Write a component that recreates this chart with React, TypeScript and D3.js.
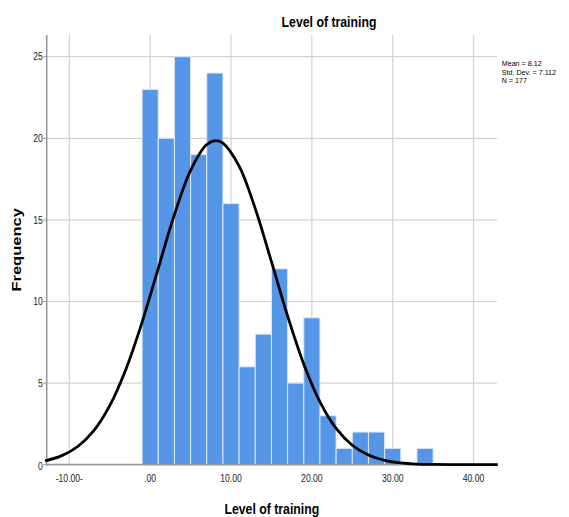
import React from "react";
import * as d3 from "d3";

// histogram bins (lower edge, width 2) and their counts
const binStarts = [-1, 1, 3, 5, 7, 9, 11, 13, 15, 17, 19, 21, 23, 25, 27, 29, 31, 33];
const binCounts = [23, 20, 25, 19, 24, 16, 6, 8, 12, 5, 9, 3, 1, 2, 2, 1, 0, 1];
const binWidth = 2;

// fitted normal curve
const curveX = [-13, -11, -9, -7, -5, -3, -1, 1, 3, 5, 7, 8.12, 9, 11, 13, 15, 17, 19, 21, 23, 25, 27, 29, 31, 33, 35, 37, 39, 41, 43];
const curveY = [0.24, 0.54, 1.1, 2.07, 3.62, 5.85, 8.73, 12.03, 15.33, 18.04, 19.62, 19.86, 19.71, 18.3, 15.69, 12.44, 9.11, 6.16, 3.85, 2.22, 1.19, 0.59, 0.27, 0.11, 0.04, 0.02, 0.01, 0, 0, 0];

const xTicks = [-10, 0, 10, 20, 30, 40];
const xTickLabels = ["-10.00-", ".00", "10.00", "20.00", "30.00", "40.00"];
const yTicks = [0, 5, 10, 15, 20, 25];
const statLines = ["Mean = 8.12", "Std. Dev. = 7.112", "N = 177"];

const W = 569;
const H = 517;
const plot = { left: 46.7, right: 497, top: 35, bottom: 464.7 };
const FONT = "'Liberation Sans', Arial, sans-serif";
const SQ = 0.82; // horizontal squeeze of the original picture

const App = () => {
    const x = d3.scaleLinear().domain([-12.8, 42.9]).range([plot.left, plot.right]);
    const y = d3.scaleLinear().domain([0, 26.33]).range([plot.bottom, plot.top]);

    const line = d3
        .line<number>()
        .x((_, i) => x(curveX[i]))
        .y(d => y(d))
        .curve(d3.curveCatmullRom.alpha(0.5));

    const cx = (plot.left + plot.right) / 2;
    const cy = (plot.top + plot.bottom) / 2;

    return (
        <svg
            width={W}
            height={H}
            style={{ position: "fixed", left: 0, top: 0, background: "#fff" }}
        >
            {/* title */}
            <text
                transform={`translate(329,27.3) scale(${SQ},1)`}
                textAnchor="middle"
                fontFamily={FONT}
                fontWeight="bold"
                fontSize={15}
                fill="#000"
            >
                Level of training
            </text>

            {/* grid */}
            {yTicks.filter(t => t > 0).map(t => (
                <line
                    key={"gy" + t}
                    x1={plot.left}
                    x2={plot.right}
                    y1={y(t)}
                    y2={y(t)}
                    stroke="#d3d3d3"
                    strokeWidth={1.2}
                />
            ))}
            {xTicks.map(t => (
                <line
                    key={"gx" + t}
                    x1={x(t)}
                    x2={x(t)}
                    y1={plot.top}
                    y2={plot.bottom}
                    stroke="#d3d3d3"
                    strokeWidth={1.2}
                />
            ))}

            {/* bars */}
            {binStarts.map((b, i) =>
                binCounts[i] > 0 ? (
                    <rect
                        key={"bar" + i}
                        x={x(b)}
                        y={y(binCounts[i])}
                        width={x(b + binWidth) - x(b)}
                        height={y(0) - y(binCounts[i])}
                        fill="#5596e6"
                        stroke="#dce8f9"
                        strokeWidth={1}
                    />
                ) : null
            )}

            {/* axes */}
            <line x1={plot.left} x2={plot.left} y1={plot.top} y2={plot.bottom + 1} stroke="#999" strokeWidth={1.6} />
            <line x1={plot.left} x2={plot.right} y1={plot.bottom} y2={plot.bottom} stroke="#9a9a9a" strokeWidth={1.8} />
            {yTicks.map(t => (
                <g key={"yt" + t}>
                    <line x1={plot.left - 3.5} x2={plot.left} y1={y(t)} y2={y(t)} stroke="#999" strokeWidth={1} />
                    <text
                        transform={`translate(${plot.left - 4},${y(t) + (t === 0 ? 5.5 : 3.7)}) scale(${SQ},1)`}
                        textAnchor="end"
                        fontFamily={FONT}
                        fontSize={10.5}
                        fill="#222"
                    >
                        {t}
                    </text>
                </g>
            ))}
            {xTicks.map((t, i) => (
                <text
                    key={"xt" + t}
                    transform={`translate(${x(t)},482) scale(${SQ},1)`}
                    textAnchor="middle"
                    fontFamily={FONT}
                    fontSize={10.5}
                    fill="#222"
                >
                    {xTickLabels[i]}
                </text>
            ))}

            {/* normal curve */}
            <path d={line(curveY) || ""} fill="none" stroke="#000" strokeWidth={2.8} />

            {/* axis titles */}
            <text
                transform={`translate(${cx},513.5) scale(${SQ},1)`}
                textAnchor="middle"
                fontFamily={FONT}
                fontWeight="bold"
                fontSize={15}
                fill="#000"
            >
                Level of training
            </text>
            <text
                transform={`translate(20.5,${cy}) scale(${SQ},1) rotate(-90)`}
                textAnchor="middle"
                fontFamily={FONT}
                fontWeight="bold"
                fontSize={16.5}
                fill="#000"
            >
                Frequency
            </text>

            {/* stats */}
            {statLines.map((s, i) => (
                <text
                    key={"st" + i}
                    transform={`translate(501.7,${66 + i * 8.7}) scale(0.93,1)`}
                    fontFamily={FONT}
                    fontSize={7.7}
                    fill="#000"
                >
                    {s}
                </text>
            ))}
        </svg>
    );
};

export default App;
